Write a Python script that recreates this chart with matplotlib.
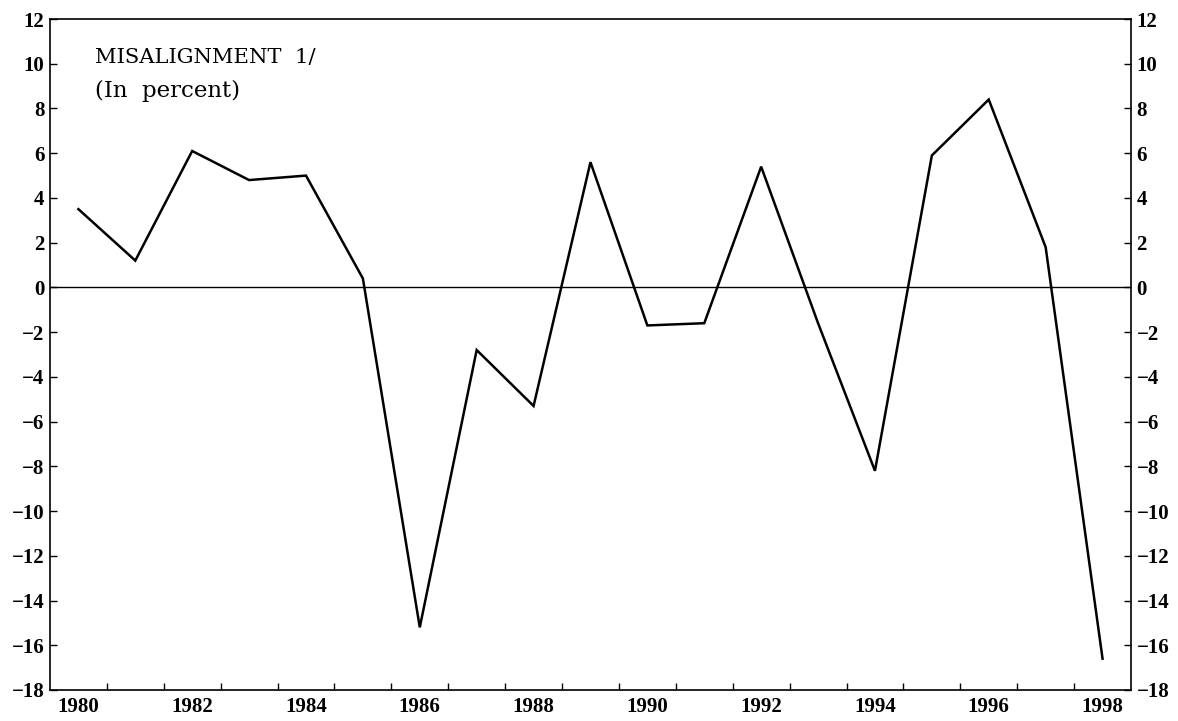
import numpy as np
import matplotlib.pyplot as plt
from matplotlib.ticker import FixedLocator, NullFormatter

# Annual misalignment, percent
years = [1980, 1981, 1982, 1983, 1984, 1985, 1986, 1987, 1988, 1989,
         1990, 1991, 1992, 1993, 1994, 1995, 1996, 1997, 1998]
misalignment = [3.5, 1.2, 6.1, 4.8, 5.0, 0.4, -15.2, -2.8, -5.3, 5.6,
                -1.7, -1.6, 5.4, -1.6, -8.2, 5.9, 8.4, 1.8, -16.6]

label_years = [1980, 1982, 1984, 1986, 1988, 1990, 1992, 1994, 1996, 1998]
y_ticks = list(range(-18, 13, 2))

plt.rcParams['font.family'] = ['Liberation Serif', 'DejaVu Serif']

fig = plt.figure(figsize=(11.78, 7.21), dpi=100)
ax = fig.add_axes([0.0424, 0.043, 0.9177, 0.9306])

# each year's value sits in the middle of its year slot
x = np.array(years) + 0.5
ax.plot(x, misalignment, color='black', linewidth=1.8, solid_joinstyle='miter')
ax.axhline(0, color='black', linewidth=1.0)

ax.set_xlim(1980, 1999)
ax.set_ylim(-18, 12)

# year boundaries as ticks, labels centred in the slot
ax.xaxis.set_major_locator(FixedLocator(range(1981, 1999)))
ax.xaxis.set_major_formatter(NullFormatter())
ax.xaxis.set_minor_locator(FixedLocator([y + 0.5 for y in label_years]))
ax.set_xticklabels([str(y) for y in label_years], minor=True)
ax.tick_params(axis='x', which='major', direction='in', length=5, width=1, top=False)
ax.tick_params(axis='x', which='minor', length=0, pad=5, labelsize=15)

ax.set_yticks(y_ticks)
ax.set_yticklabels([str(v).replace('-', '\u2212') for v in y_ticks])
ax.tick_params(axis='y', which='both', direction='in', length=5, width=1,
               left=True, right=True, labelleft=True, labelright=True,
               pad=4, labelsize=15)

for lab in ax.get_xticklabels(minor=True) + ax.get_yticklabels():
    lab.set_fontweight('bold')

for sp in ax.spines.values():
    sp.set_linewidth(1.2)

ax.text(0.042, 0.934, 'MISALIGNMENT  1/', transform=ax.transAxes,
        fontsize=15.2, va='baseline', ha='left', family='DejaVu Serif')
ax.text(0.042, 0.884, '(In  percent)', transform=ax.transAxes,
        fontsize=16.5, va='baseline', ha='left', family='DejaVu Serif')

fig.savefig('out.png', dpi=100)
